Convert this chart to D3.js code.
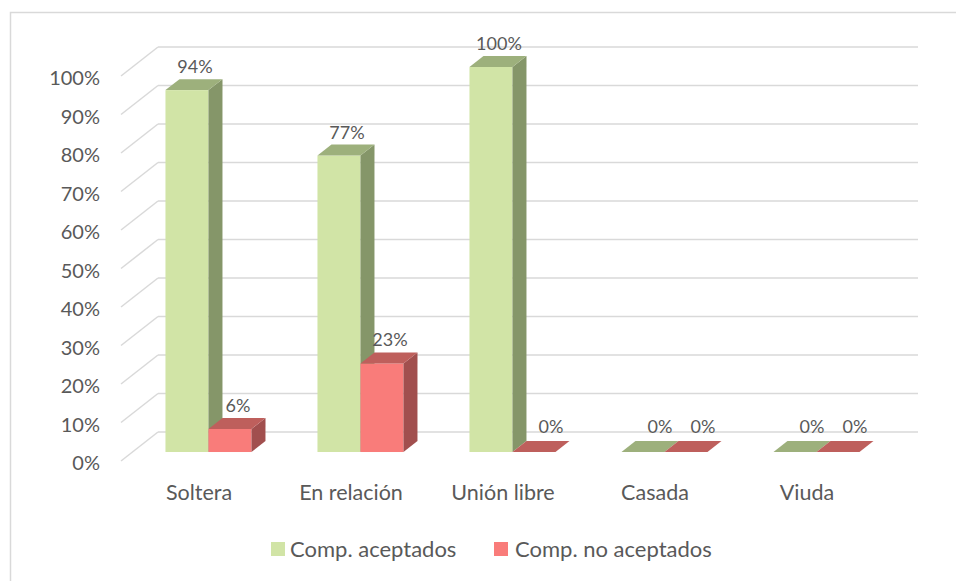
<!DOCTYPE html>
<html>
<head>
<meta charset="utf-8">
<script src="https://cdn.jsdelivr.net/npm/d3@7"></script>
<style>
  body { margin: 0; background: #fff; }
  text { font-family: Lato, "Open Sans", sans-serif; fill: #595959; }
</style>
</head>
<body>
<script>
//chart data
var categories = ["Soltera", "En relación", "Unión libre", "Casada", "Viuda"];
var seriesNames = ["Comp. aceptados", "Comp. no aceptados"];
var aceptados = [0.94, 0.77, 1.00, 0, 0];
var noAceptados = [0.06, 0.23, 0, 0, 0];
var yTicks = [0, 0.1, 0.2, 0.3, 0.4, 0.5, 0.6, 0.7, 0.8, 0.9, 1.0];

//colors for front, side and top faces
var faces = [
    {front: "#D1E4A6", side: "#859669", top: "#9DB07C"},
    {front: "#F97C7A", side: "#A14F4E", top: "#BE5F5C"}
];

var width = 956, height = 581;

var svg = d3.select("body").append("svg")
    .attr("width", width)
    .attr("height", height);

//outer frame
svg.append("rect")
    .attr("x", 10.5).attr("y", 12.5)
    .attr("width", width + 20).attr("height", height + 20)
    .attr("fill", "none")
    .attr("stroke", "#d9d9d9")
    .attr("stroke-width", 1.5);

//depth of the 3d box
var depthX = 37, depthY = -29;

//scales on the front plane
var x = d3.scaleBand()
    .domain(categories)
    .range([121, 881]);

var y = d3.scaleLinear()
    .domain([0, 1])
    .range([461, 76]);

//back wall gridlines and diagonals
var grid = svg.append("g");
yTicks.forEach(function(t){
    grid.append("line")
        .attr("x1", x.range()[0]).attr("y1", y(t))
        .attr("x2", x.range()[0] + depthX).attr("y2", y(t) + depthY)
        .attr("stroke", "#d9d9d9").attr("stroke-width", 1.5);
    grid.append("line")
        .attr("x1", x.range()[0] + depthX).attr("y1", y(t) + depthY)
        .attr("x2", x.range()[1] + depthX).attr("y2", y(t) + depthY)
        .attr("stroke", "#d9d9d9").attr("stroke-width", 1.5);
});

//y axis labels
svg.append("g").selectAll("text")
    .data(yTicks)
    .enter()
    .append("text")
    .attr("x", 100)
    .attr("y", function(d){ return y(d) + 1; })
    .attr("text-anchor", "end")
    .attr("dominant-baseline", "central")
    .style("font-size", "20px")
    .text(d3.format(".0%"));

//category labels
svg.append("g").selectAll("text")
    .data(categories)
    .enter()
    .append("text")
    .attr("x", function(d){ return x(d) + x.bandwidth() / 2 + 2; })
    .attr("y", 500)
    .attr("text-anchor", "middle")
    .style("font-size", "21.5px")
    .text(function(d){ return d; });

//bars
var barW = 43;
var frontDepth = 0.31, barDepth = 14 / 37;
var bdx = depthX * barDepth, bdy = depthY * barDepth;
var series = [aceptados, noAceptados];

var bars = svg.append("g");
var labels = svg.append("g");

categories.forEach(function(cat, i){
    series.forEach(function(vals, s){
        var v = vals[i];
        var x0 = x(cat) + x.bandwidth() / 2 - barW + s * barW + depthX * frontDepth;
        var x1 = x0 + barW;
        var yb = y(0) + depthY * frontDepth;
        var yt = y(v) + depthY * frontDepth;
        var c = faces[s];
        if (v > 0){
            bars.append("rect")
                .attr("x", x0).attr("y", yt)
                .attr("width", barW).attr("height", yb - yt)
                .attr("fill", c.front);
            bars.append("path")
                .attr("d", "M" + x1 + "," + yb + "L" + x1 + "," + yt +
                    "L" + (x1 + bdx) + "," + (yt + bdy) + "L" + (x1 + bdx) + "," + (yb + bdy) + "Z")
                .attr("fill", c.side);
        }
        bars.append("path")
            .attr("d", "M" + x0 + "," + yt + "L" + x1 + "," + yt +
                "L" + (x1 + bdx) + "," + (yt + bdy) + "L" + (x0 + bdx) + "," + (yt + bdy) + "Z")
            .attr("fill", c.top);

        //data label
        labels.append("text")
            .attr("x", x0 + barW / 2 + (v > 0 ? 8 : 17))
            .attr("y", yt + bdy - (v > 0 ? 6 : 8))
            .attr("text-anchor", "middle")
            .style("font-size", "18px")
            .text(d3.format(".0%")(v));
    });
});

//legend
var legend = svg.append("g");
var legendX = [271, 494];
seriesNames.forEach(function(name, s){
    legend.append("rect")
        .attr("x", legendX[s]).attr("y", 542)
        .attr("width", 14).attr("height", 14)
        .attr("fill", faces[s].front);
    legend.append("text")
        .attr("x", legendX[s] + 19 + s * 2)
        .attr("y", 557)
        .style("font-size", "22px")
        .text(name);
});
</script>
</body>
</html>
